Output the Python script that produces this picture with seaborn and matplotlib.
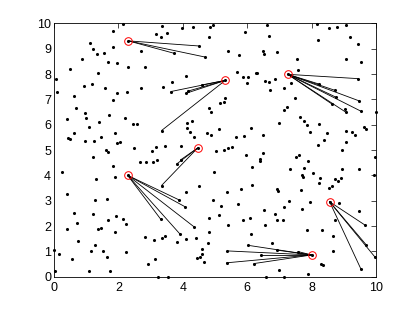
import matplotlib
matplotlib.use("Agg")
import matplotlib.pyplot as plt
import seaborn as sns
import pandas as pd

# scattered points (not counting centres and linked neighbours)
pts_x = [2.14, 1.83, 1.12, 1.20, 1.84, 2.71, 1.35, 1.55, 0.87, 1.69, 1.97, 0.49, 2.30, 2.84, 1.37,
         0.06, 0.92, 1.18, 1.58, 2.69, 0.11, 1.97, 2.26, 0.61, 1.83, 0.69, 0.96, 1.71, 1.00, 0.41,
         2.22, 1.40, 2.46, 2.58, 1.10, 0.62, 1.90, 0.44, 0.50, 1.46, 0.95, 1.25, 1.96, 2.06,
         3.34, 3.99, 4.32, 4.85, 4.95, 3.16, 3.50, 3.32, 4.80, 5.93, 5.40, 5.75, 6.48, 6.52, 4.09,
         3.67, 3.40, 5.69, 5.87, 6.03, 6.27, 6.31, 5.98, 5.31, 5.17, 5.28, 4.83, 4.89, 4.12, 4.29,
         4.12, 4.23, 4.34, 4.76, 4.88, 5.13, 6.12, 5.65, 5.89, 6.48,
         6.61, 8.16, 8.55, 8.79, 9.07, 6.68, 8.20, 9.20, 9.43, 6.92, 9.07, 9.54, 7.56, 7.58, 6.55,
         6.67, 6.86, 7.37, 6.72, 7.15, 7.47, 7.23, 7.14, 9.04, 9.99, 7.63, 7.76, 7.86, 8.22, 7.00,
         7.95, 8.48, 9.07, 9.26, 9.35, 9.63, 9.68, 8.40, 9.07,
         2.49, 3.03, 1.61, 1.67, 1.22, 2.67, 2.85, 3.08, 0.26, 1.82, 1.30, 1.90, 0.39, 1.27, 1.66,
         0.61, 1.21, 0.71, 1.69, 1.94, 2.13, 2.24, 0.39, 1.38, 1.46, 1.91, 0.75, 2.82, 3.12, 1.27,
         0.01, 0.15, 1.14, 1.52, 2.24, 0.56, 1.65, 3.13, 2.92, 1.08, 1.74, 0.04,
         3.16, 3.45, 3.93, 5.04, 5.28, 5.39, 5.53, 5.97, 6.48, 3.19, 6.39, 6.40, 6.14, 4.96, 4.51,
         6.14, 4.09, 5.38, 5.81, 4.93, 5.70, 5.20, 6.51, 4.83, 5.13, 5.88, 6.09, 5.40, 4.82, 6.13,
         3.34, 3.45, 4.09, 4.40, 3.82, 4.78, 4.61, 4.59, 4.52, 4.43, 4.65, 3.23, 3.55,
         8.21, 8.94, 9.97, 7.51, 7.61, 7.90, 7.33, 7.77, 8.94, 9.48, 7.69, 7.72, 8.03, 8.25, 8.24,
         8.73, 8.82, 8.92, 8.62, 8.53, 9.95, 6.92, 6.95, 7.66, 7.30, 7.96, 8.86, 7.15, 7.69, 9.46,
         8.73, 6.86, 6.94, 7.12, 6.55, 7.86, 8.33, 8.65, 6.76, 8.65, 8.30, 8.34, 6.98, 7.14, 7.88,
         6.57]
pts_y = [9.98, 9.71, 9.24, 9.00, 9.06, 8.92, 8.78, 8.82, 8.61, 8.46, 8.42, 8.21, 8.28, 8.27, 8.03,
         7.79, 7.52, 7.61, 7.45, 7.46, 7.31, 7.24, 7.28, 7.12, 6.96, 6.65, 6.48, 6.38, 6.27, 6.24,
         6.28, 6.12, 6.04, 6.04, 5.90, 5.66, 5.66, 5.49, 5.42, 5.53, 5.37, 5.37, 5.27, 5.32,
         9.91, 9.82, 9.87, 9.87, 9.94, 9.58, 9.63, 9.48, 9.46, 9.65, 8.92, 8.74, 8.92, 8.78, 7.92,
         7.70, 7.50, 8.09, 7.90, 7.90, 8.06, 8.04, 7.63, 7.07, 6.85, 6.88, 6.66, 6.52, 6.08, 6.15,
         5.86, 5.70, 5.53, 5.69, 5.59, 5.82, 5.88, 5.53, 5.56, 5.58,
         9.94, 9.96, 9.81, 9.87, 9.94, 9.50, 9.33, 9.48, 9.17, 8.86, 8.59, 8.49, 8.59, 8.15, 7.73,
         7.70, 7.79, 7.66, 7.37, 7.46, 7.07, 6.71, 6.58, 6.61, 6.49, 6.31, 6.15, 6.00, 6.04, 6.08,
         5.70, 5.66, 5.75, 5.70, 5.58, 5.92, 5.84, 5.40, 5.31,
         5.08, 4.96, 5.00, 4.91, 4.74, 4.53, 4.53, 4.53, 4.13, 4.37, 3.86, 3.95, 3.28, 3.03, 3.05,
         2.52, 2.48, 2.13, 2.24, 2.40, 2.27, 2.10, 1.90, 1.90, 1.92, 1.78, 1.42, 1.58, 1.45, 1.24,
         1.07, 0.91, 1.03, 1.03, 0.98, 0.70, 0.79, 0.71, 0.50, 0.23, 0.21, 0.23,
         5.11, 5.17, 5.17, 4.98, 4.99, 5.08, 5.13, 4.80, 4.90, 4.61, 4.63, 4.55, 4.32, 4.12, 3.58,
         3.62, 3.33, 3.33, 3.46, 3.02, 2.87, 2.78, 2.63, 2.30, 2.42, 2.24, 2.33, 2.03, 1.78, 1.70,
         1.54, 1.61, 1.48, 1.54, 1.38, 1.33, 1.11, 0.90, 0.79, 0.73, 0.57, 0.00, 0.00,
         5.20, 5.00, 4.74, 4.74, 4.79, 4.58, 4.24, 4.28, 4.24, 4.24, 4.02, 3.92, 4.08, 3.88, 3.71,
         3.85, 3.79, 3.91, 3.58, 3.50, 4.00, 3.46, 3.38, 3.44, 2.98, 2.95, 2.90, 2.77, 2.67, 2.61,
         2.23, 2.48, 2.24, 2.24, 2.03, 1.85, 1.85, 1.61, 1.32, 1.02, 0.50, 0.46, 0.27, 0.00, 0.11,
         0.00]

# circled centres
centers_x = [2.31, 5.32, 4.46, 7.26, 2.29, 8.56, 8.00]
centers_y = [9.31, 7.75, 5.08, 7.99, 4.00, 2.96, 0.86]

# points joined to each centre
link_x = [[4.49, 3.73, 4.70],
          [4.59, 3.63, 4.17, 4.10, 3.34],
          [3.81, 3.93, 3.34],
          [9.44, 8.22, 8.72, 8.77, 8.63, 9.48, 9.07, 9.54],
          [3.89, 4.06, 3.31, 4.34, 3.91],
          [9.67, 9.69, 9.96, 9.53],
          [6.03, 5.38, 6.93, 7.59, 6.42, 5.36, 6.21]]
link_y = [[9.11, 8.82, 8.67],
          [7.57, 7.31, 7.33, 7.24, 5.77],
          [4.45, 4.61, 3.60],
          [7.82, 7.61, 7.36, 7.08, 6.82, 6.94, 6.49, 6.53],
          [3.03, 2.77, 2.28, 1.98, 1.69],
          [2.03, 1.27, 0.79, 0.31],
          [1.24, 1.02, 1.05, 0.99, 0.86, 0.55, 0.52]]


def build_segments():
    rows = []
    seg = 0
    for cx, cy, lx, ly in zip(centers_x, centers_y, link_x, link_y):
        for x, y in zip(lx, ly):
            rows.append({"seg": seg, "x": cx, "y": cy})
            rows.append({"seg": seg, "x": x, "y": y})
            seg += 1
    return pd.DataFrame(rows)


def main():
    sns.set_style("white")
    plt.rcParams["font.family"] = ["Liberation Sans", "DejaVu Sans"]
    fig = plt.figure(figsize=(4.15, 3.12), dpi=100)
    ax = fig.add_axes([0.13, 0.113, 0.776, 0.812])

    segs = build_segments()
    sns.lineplot(data=segs, x="x", y="y", units="seg", estimator=None, sort=False,
                 color="black", linewidth=0.6, ax=ax, legend=False)

    all_x = pts_x + [v for row in link_x for v in row] + centers_x
    all_y = pts_y + [v for row in link_y for v in row] + centers_y
    sns.scatterplot(x=all_x, y=all_y, color="black", s=5, linewidth=0, ax=ax,
                    legend=False, clip_on=False)

    ax.plot(centers_x, centers_y, linestyle="none", marker="o", markersize=5.5,
            mfc="none", mec="red", mew=0.7)

    ax.set_xlim(0, 10)
    ax.set_ylim(0, 10)
    ax.set_xticks(range(0, 11, 2))
    ax.set_yticks(range(0, 11))
    ax.set_xlabel("")
    ax.set_ylabel("")
    ax.tick_params(direction="in", top=True, right=True, length=3.5, width=0.5,
                   labelsize=9, colors="black")
    ax.tick_params(axis="x", pad=4)
    ax.tick_params(axis="y", pad=2)
    for sp in ax.spines.values():
        sp.set_color("black")
        sp.set_linewidth(0.6)

    fig.savefig("out.png", dpi=100)


if __name__ == "__main__":
    main()
